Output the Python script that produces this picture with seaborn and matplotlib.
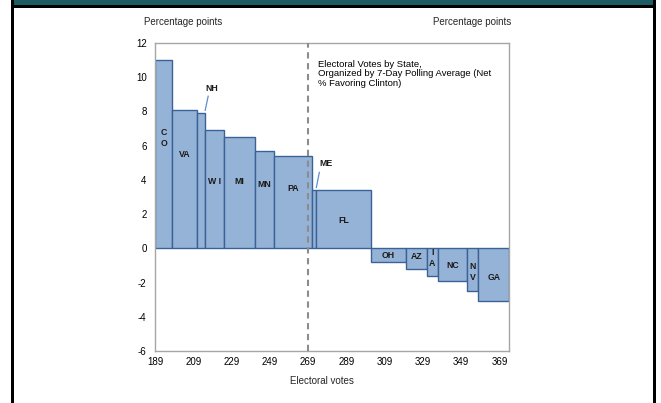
import numpy as np
import pandas as pd
import matplotlib
matplotlib.use("Agg")
import matplotlib.pyplot as plt
from matplotlib.patches import Rectangle
import seaborn as sns

# ---- data ----
states = ["CO", "VA", "NH", "WI", "MI", "MN", "PA", "ME", "FL", "OH", "AZ", "IA", "NC", "NV", "GA"]
votes = [9, 13, 4, 10, 16, 10, 20, 2, 29, 18, 11, 6, 15, 6, 16]
margin = [11.0, 8.1, 7.9, 6.9, 6.5, 5.7, 5.4, 3.4, 3.4, -0.8, -1.2, -1.6, -1.9, -2.5, -3.1]
start_votes = 189
x_ticks = [189, 209, 229, 249, 269, 289, 309, 329, 349, 369]
y_ticks = [-6, -4, -2, 0, 2, 4, 6, 8, 10, 12]
threshold = 269

# ---- layout / style ----
label_text = {"CO": "C\nO", "IA": "I\nA", "NV": "N\nV", "WI": "W I"}
label_y = {"CO": 6.45, "VA": 5.5, "WI": 3.9, "MI": 3.9, "MN": 3.75, "PA": 3.5,
           "FL": 1.65, "OH": -0.4, "AZ": -0.5, "IA": -0.57, "NC": -1.0,
           "NV": -1.4, "GA": -1.7}

sns.set_style("white")
plt.rcParams["font.family"] = ["Liberation Sans", "DejaVu Sans"]

edges = [float(e) for e in start_votes + np.concatenate([[0], np.cumsum(votes)])]
centers = [(a + b) / 2 for a, b in zip(edges[:-1], edges[1:])]
df = pd.DataFrame({"state": states, "votes": votes, "margin": margin, "center": centers})

fig = plt.figure(figsize=(6.61, 4.03), dpi=100)
ax = fig.add_axes([155 / 661, 1 - 351 / 403, (509 - 155) / 661, (351 - 43) / 403])

sns.histplot(data=df, x="center", weights="margin", bins=edges, stat="count",
             color="#95b3d7", edgecolor="#3a6296", linewidth=1.0, alpha=1.0,
             ax=ax, legend=False)

ax.axvline(threshold, color="#8c8c8c", linestyle=(0, (3, 2.2)), linewidth=1.5, zorder=3)

ax.set_xlim(edges[0], edges[-1])
ax.set_ylim(y_ticks[0], y_ticks[-1])
ax.set_xticks(x_ticks)
ax.set_yticks(y_ticks)
ax.set_xticklabels([str(t) for t in x_ticks])
ax.set_yticklabels([str(t) for t in y_ticks])
ax.tick_params(axis="both", labelsize=7, colors="black", length=0, pad=4)
ax.tick_params(axis="y", length=3, color="#a0a0a0", direction="out", width=0.8, pad=3)
ax.set_xlabel("")
ax.set_ylabel("")
for side in ["left", "bottom", "top", "right"]:
    ax.spines[side].set_color("#a6a6a6")
    ax.spines[side].set_linewidth(1.0)
    ax.spines[side].set_visible(True)

for s, c in zip(states, centers):
    if s in label_y:
        ax.text(c, label_y[s], label_text.get(s, s), ha="center", va="center",
                fontsize=6.3, color="#1a1a1a", fontweight="bold", linespacing=1.3, zorder=4)

# small-state callouts
ax.text(218.8, 9.37, "NH", ha="center", va="center", fontsize=6.3, fontweight="bold", color="#1a1a1a")
ax.plot([215.2, 216.8], [8.05, 8.9], color="#5b8fd0", linewidth=0.9)
ax.text(278.3, 4.93, "ME", ha="center", va="center", fontsize=6.3, fontweight="bold", color="#1a1a1a")
ax.plot([273.3, 274.9], [3.55, 4.45], color="#5b8fd0", linewidth=0.9)

ax.text(274.2, 11.0, "Electoral Votes by State,\nOrganized by 7-Day Polling Average (Net\n% Favoring Clinton)",
        ha="left", va="top", fontsize=6.8, color="black", linespacing=1.05)

fig.text(183 / 661, 1 - 22 / 403, "Percentage points", ha="center", va="center", fontsize=7)
fig.text(472 / 661, 1 - 22 / 403, "Percentage points", ha="center", va="center", fontsize=7)
fig.text(322 / 661, 1 - 381 / 403, "Electoral votes", ha="center", va="center", fontsize=7)

# frame decoration
W, H = 661, 403
def px_rect(x0, y0, x1, y1, color):
    fig.add_artist(Rectangle((x0 / W, 1 - y1 / H), (x1 - x0) / W, (y1 - y0) / H,
                             transform=fig.transFigure, facecolor=color, edgecolor="none"))
px_rect(13, 0, 653, 5, "#1d5c63")
px_rect(11, 5, 656, 7.5, "black")
px_rect(11, 0, 13.5, H, "black")
px_rect(652.5, 0, 656, H, "black")

fig.savefig("out.png", dpi=100)
